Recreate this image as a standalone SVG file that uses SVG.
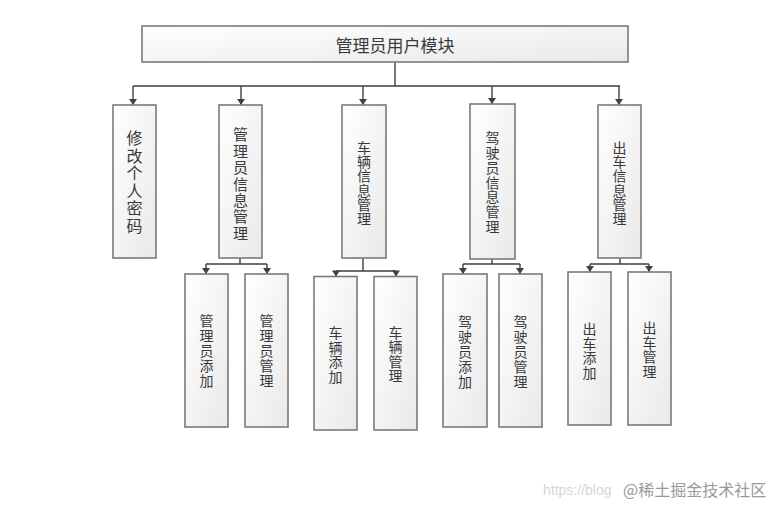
<svg xmlns="http://www.w3.org/2000/svg" width="774" height="507" viewBox="0 0 774 507">
<style>
.box{fill:url(#g);stroke:#7a7a7a;stroke-width:1.6}
.t{font-family:"Noto Sans CJK SC","Noto Sans",sans-serif;font-size:14px;fill:#3a3a3a;text-anchor:middle;dominant-baseline:central}
.c{fill:none;stroke:#404040;stroke-width:1.4}
.wm1{font-family:"Liberation Sans",sans-serif;font-size:14px;fill:#d6d6d6}
.wm2{font-family:"Noto Sans CJK SC",sans-serif;font-size:16px;fill:#9a9a9a}
</style>
<defs>
<linearGradient id="g" x1="0" y1="0" x2="1" y2="1">
<stop offset="0" stop-color="#ffffff"/>
<stop offset="1" stop-color="#e9e9e9"/>
</linearGradient>
<marker id="a" markerUnits="userSpaceOnUse" markerWidth="8" markerHeight="8" viewBox="0 -4 6 8" refX="6" refY="0" orient="auto">
<path d="M0,-4 L6,0 L0,4 z" fill="#404040"/>
</marker>
</defs>
<rect width="774" height="507" fill="#fff"/>
<g id="connectors">
<path class="c" d="M395,62 V86 M133,86 H620"/>
<path class="c" d="M133,86 V105" marker-end="url(#a)"/>
<path class="c" d="M241,86 V105" marker-end="url(#a)"/>
<path class="c" d="M363,86 V105" marker-end="url(#a)"/>
<path class="c" d="M492,86 V104" marker-end="url(#a)"/>
<path class="c" d="M619,86 V105" marker-end="url(#a)"/>
<path class="c" d="M240,258 V264 M206,264 H267"/>
<path class="c" d="M206,264 V274" marker-end="url(#a)"/>
<path class="c" d="M267,264 V274" marker-end="url(#a)"/>
<path class="c" d="M363,258 V271 M336,271 H396"/>
<path class="c" d="M336,271 V276.5" marker-end="url(#a)"/>
<path class="c" d="M396,271 V276.5" marker-end="url(#a)"/>
<path class="c" d="M492,259 V264 M463,264 H520"/>
<path class="c" d="M463,264 V274" marker-end="url(#a)"/>
<path class="c" d="M520,264 V274" marker-end="url(#a)"/>
<path class="c" d="M620,258 V264 M590,264 H649"/>
<path class="c" d="M590,264 V272" marker-end="url(#a)"/>
<path class="c" d="M649,264 V272" marker-end="url(#a)"/>
</g>
<g id="root">
<rect class="box" x="142" y="26" width="486" height="36"/>
<text class="t" x="395" y="44" style="font-size:17px">管理员用户模块</text>
</g>
<g id="n1">
<rect class="box" x="113" y="105" width="43" height="153"/>
<text class="t" style="font-size:16px"><tspan x="134.5" y="137.25">修</tspan><tspan x="134.5" y="154.75">改</tspan><tspan x="134.5" y="172.25">个</tspan><tspan x="134.5" y="189.75">人</tspan><tspan x="134.5" y="207.25">密</tspan><tspan x="134.5" y="224.75">码</tspan></text>
</g>
<g id="n2">
<rect class="box" x="219" y="105" width="43" height="153"/>
<text class="t" style="font-size:15px"><tspan x="240.5" y="133.3">管</tspan><tspan x="240.5" y="149.7">理</tspan><tspan x="240.5" y="166.1">员</tspan><tspan x="240.5" y="182.5">信</tspan><tspan x="240.5" y="198.9">息</tspan><tspan x="240.5" y="215.3">管</tspan><tspan x="240.5" y="231.7">理</tspan></text>
</g>
<g id="n3">
<rect class="box" x="342" y="105" width="44" height="153"/>
<text class="t"><tspan x="364" y="147">车</tspan><tspan x="364" y="161.2">辆</tspan><tspan x="364" y="175.4">信</tspan><tspan x="364" y="189.6">息</tspan><tspan x="364" y="203.8">管</tspan><tspan x="364" y="218">理</tspan></text>
</g>
<g id="n4">
<rect class="box" x="470" y="104" width="45" height="155"/>
<text class="t"><tspan x="492.5" y="137.4">驾</tspan><tspan x="492.5" y="152.1">驶</tspan><tspan x="492.5" y="166.8">员</tspan><tspan x="492.5" y="181.5">信</tspan><tspan x="492.5" y="196.2">息</tspan><tspan x="492.5" y="210.9">管</tspan><tspan x="492.5" y="225.6">理</tspan></text>
</g>
<g id="n5">
<rect class="box" x="598" y="105" width="43" height="153"/>
<text class="t"><tspan x="619.5" y="147">出</tspan><tspan x="619.5" y="161.2">车</tspan><tspan x="619.5" y="175.4">信</tspan><tspan x="619.5" y="189.6">息</tspan><tspan x="619.5" y="203.8">管</tspan><tspan x="619.5" y="218">理</tspan></text>
</g>
<g id="n21">
<rect class="box" x="185" y="274" width="43" height="153"/>
<text class="t"><tspan x="206.5" y="320.4">管</tspan><tspan x="206.5" y="335.2">理</tspan><tspan x="206.5" y="350">员</tspan><tspan x="206.5" y="364.8">添</tspan><tspan x="206.5" y="379.6">加</tspan></text>
</g>
<g id="n22">
<rect class="box" x="245" y="274" width="43" height="153"/>
<text class="t"><tspan x="266.5" y="320.4">管</tspan><tspan x="266.5" y="335.2">理</tspan><tspan x="266.5" y="350">员</tspan><tspan x="266.5" y="364.8">管</tspan><tspan x="266.5" y="379.6">理</tspan></text>
</g>
<g id="n31">
<rect class="box" x="314" y="276.5" width="43" height="153.5"/>
<text class="t"><tspan x="335.5" y="332.25">车</tspan><tspan x="335.5" y="346.75">辆</tspan><tspan x="335.5" y="361.25">添</tspan><tspan x="335.5" y="375.75">加</tspan></text>
</g>
<g id="n32">
<rect class="box" x="374" y="276.5" width="43" height="153.5"/>
<text class="t"><tspan x="395.5" y="331.75">车</tspan><tspan x="395.5" y="346.25">辆</tspan><tspan x="395.5" y="360.75">管</tspan><tspan x="395.5" y="375.25">理</tspan></text>
</g>
<g id="n41">
<rect class="box" x="443" y="274" width="44" height="153"/>
<text class="t"><tspan x="465" y="321.4">驾</tspan><tspan x="465" y="336.2">驶</tspan><tspan x="465" y="351">员</tspan><tspan x="465" y="365.8">添</tspan><tspan x="465" y="380.6">加</tspan></text>
</g>
<g id="n42">
<rect class="box" x="499" y="274" width="43" height="153"/>
<text class="t"><tspan x="520.5" y="321.4">驾</tspan><tspan x="520.5" y="336.2">驶</tspan><tspan x="520.5" y="351">员</tspan><tspan x="520.5" y="365.8">管</tspan><tspan x="520.5" y="380.6">理</tspan></text>
</g>
<g id="n51">
<rect class="box" x="568" y="272" width="43" height="153"/>
<text class="t"><tspan x="589.5" y="328.25">出</tspan><tspan x="589.5" y="342.75">车</tspan><tspan x="589.5" y="357.25">添</tspan><tspan x="589.5" y="371.75">加</tspan></text>
</g>
<g id="n52">
<rect class="box" x="628" y="272" width="43" height="153"/>
<text class="t"><tspan x="649.5" y="327.25">出</tspan><tspan x="649.5" y="341.75">车</tspan><tspan x="649.5" y="356.25">管</tspan><tspan x="649.5" y="370.75">理</tspan></text>
</g>
<text class="wm1" x="543" y="495">https://blog</text>
<text class="wm2" x="623" y="496">@稀土掘金技术社区</text>
</svg>
